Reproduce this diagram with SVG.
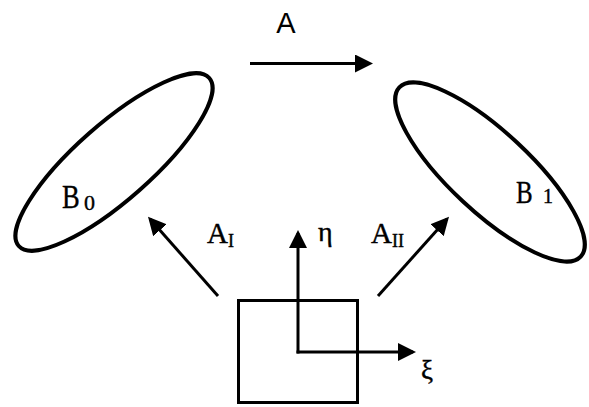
<svg xmlns="http://www.w3.org/2000/svg" width="589" height="407" viewBox="0 0 589 407">
<defs>
<marker id="ah" markerWidth="6" markerHeight="6" refX="5" refY="3" orient="auto" markerUnits="strokeWidth">
<path d="M0,0 L6,3 L0,6 Z" fill="#000"/>
</marker>
<style>
.shape{fill:none;stroke:#000;stroke-width:4}
.box{fill:none;stroke:#000;stroke-width:3}
.arr{fill:none;stroke:#000;stroke-width:3;marker-end:url(#ah)}
.serif{font-family:"Liberation Serif","Times New Roman",serif;fill:#000;stroke:#000;stroke-width:0.4}
.sans{font-family:"Liberation Sans",Arial,sans-serif;fill:#000}
</style>
</defs>
<rect width="589" height="407" fill="#fff"/>
<g id="B0">
<ellipse class="shape" cx="114" cy="162" rx="127" ry="38" transform="rotate(-41.4 114 162)"/>
<text class="serif" x="62" y="208" font-size="34" transform="translate(62 0) scale(0.78 1) translate(-62 0)">B</text>
<text class="serif" x="84" y="210" font-size="22">0</text>
</g>
<g id="B1">
<ellipse class="shape" cx="490" cy="172" rx="124" ry="40" transform="rotate(43 490 172)"/>
<text class="serif" x="516" y="203" font-size="32" transform="translate(516 0) scale(0.78 1) translate(-516 0)">B</text>
<text class="serif" x="543" y="203" font-size="20">1</text>
</g>
<g id="frame">
<rect class="box" x="238.5" y="300.5" width="119" height="102"/>
</g>
<g id="connectors">
<line class="arr" x1="250" y1="63.5" x2="370" y2="63.5"/>
<line class="arr" x1="218" y1="296" x2="150" y2="219"/>
<line class="arr" x1="378" y1="296" x2="447" y2="219"/>
<line class="arr" x1="298" y1="353.5" x2="298" y2="233"/>
<line class="arr" x1="296.5" y1="352" x2="413" y2="352"/>
</g>
<g id="labels">
<text class="sans" x="286" y="33" font-size="29" text-anchor="middle">A</text>
<text class="serif" x="207" y="243" font-size="29">A<tspan font-size="18" dy="4">I</tspan></text>
<text class="serif" x="371" y="243" font-size="29">A<tspan font-size="18" dy="4">II</tspan></text>
<text class="serif" x="318" y="241" font-size="28">η</text>
<text class="serif" x="421" y="379" font-size="27">ξ</text>
</g>
</svg>
